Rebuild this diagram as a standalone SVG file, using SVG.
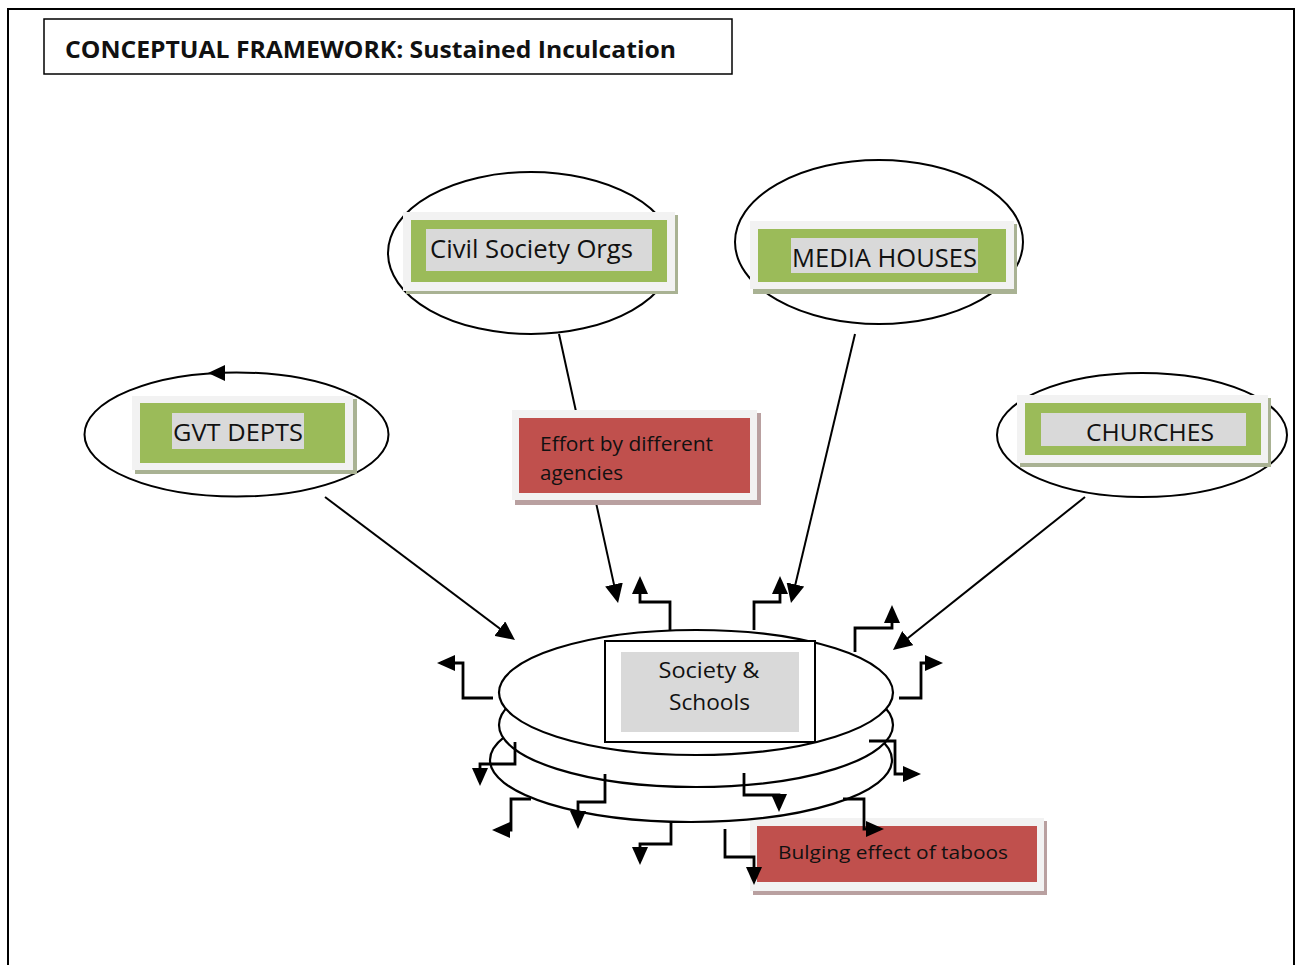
<svg xmlns="http://www.w3.org/2000/svg" width="1296" height="965" viewBox="0 0 1296 965">
<style>
.frame{fill:none;stroke:#000;stroke-width:2}
.oval{fill:none;stroke:#000;stroke-width:2}
.disk{fill:#fff;stroke:#000;stroke-width:2.2}
.light{fill:#f2f2f2}
.gshadow{fill:#a9b293}
.rshadow{fill:#b9a0a0}
.green{fill:#9bbb59}
.red{fill:#c0504d}
.grey{fill:#d9d9d9}
.t{font-family:"Open Sans","Liberation Sans",Arial,sans-serif;fill:#111}
.conn{fill:none;stroke:#000;stroke-width:2}
.elbow{fill:none;stroke:#000;stroke-width:2.8}
</style>
<defs>
<marker id="ah" markerUnits="userSpaceOnUse" markerWidth="20" markerHeight="18" refX="15" refY="9" orient="auto">
<path d="M0,0 L19,9 L0,18 z" fill="#000"/>
</marker>
<marker id="ah2" markerUnits="userSpaceOnUse" markerWidth="18" markerHeight="16" refX="14" refY="8" orient="auto">
<path d="M0,0 L18,8 L0,16 z" fill="#000"/>
</marker>
</defs>
<rect width="1296" height="965" fill="#fff"/>
<path class="frame" d="M8,965 V9 H1294 V965"/>
<g id="title">
<rect x="44" y="19" width="688" height="55" fill="#fff" stroke="#000" stroke-width="1.5"/>
<text class="t" x="65" y="58" font-size="24" font-weight="bold" textLength="611" lengthAdjust="spacingAndGlyphs">CONCEPTUAL FRAMEWORK: Sustained Inculcation</text>
</g>
<g id="civil">
<ellipse class="oval" cx="531" cy="253" rx="143" ry="81"/>
<rect class="gshadow" x="406" y="215" width="272" height="79"/>
<rect class="light" x="403" y="212" width="272" height="79"/>
<rect class="green" x="411" y="220" width="256" height="62"/>
<rect class="grey" x="426" y="229" width="226" height="42"/>
<text class="t" x="430" y="258" font-size="25" textLength="203" lengthAdjust="spacingAndGlyphs">Civil Society Orgs</text>
</g>
<g id="media">
<ellipse class="oval" cx="879" cy="242" rx="144" ry="82"/>
<rect class="gshadow" x="753" y="224" width="264" height="70"/>
<rect class="light" x="750" y="221" width="264" height="68"/>
<rect class="green" x="758" y="229" width="248" height="53"/>
<rect class="grey" x="791" y="238" width="187" height="35"/>
<text class="t" x="792" y="267" font-size="25" textLength="185" lengthAdjust="spacingAndGlyphs">MEDIA HOUSES</text>
</g>
<g id="gvt">
<ellipse class="oval" cx="236.5" cy="434.5" rx="152" ry="62"/>
<polygon points="208,373 225,365 225,381" fill="#000"/>
<rect class="gshadow" x="135" y="399" width="222" height="75"/>
<rect class="light" x="132" y="396" width="221" height="74"/>
<rect class="green" x="140" y="403" width="205" height="60"/>
<rect class="grey" x="172" y="413" width="132" height="36"/>
<text class="t" x="173" y="441" font-size="24" textLength="130" lengthAdjust="spacingAndGlyphs">GVT DEPTS</text>
</g>
<g id="churches">
<ellipse class="oval" cx="1142" cy="435" rx="145" ry="62"/>
<rect class="gshadow" x="1020" y="398" width="251" height="69"/>
<rect class="light" x="1017" y="395" width="251" height="68"/>
<rect class="green" x="1025" y="403" width="236" height="52"/>
<rect class="grey" x="1041" y="413" width="205" height="33"/>
<text class="t" x="1086" y="441" font-size="24" textLength="128" lengthAdjust="spacingAndGlyphs">CHURCHES</text>
</g>
<g id="bulging">
<rect class="rshadow" x="753" y="821" width="294" height="74"/>
<rect class="light" x="750" y="818" width="294" height="73"/>
<rect class="red" x="757" y="826" width="280" height="56"/>
<text class="t" x="778" y="859" font-size="19" textLength="230" lengthAdjust="spacingAndGlyphs">Bulging effect of taboos</text>
</g>
<g id="society">
<ellipse class="disk" cx="691" cy="760" rx="201" ry="62"/>
<ellipse class="disk" cx="696" cy="725" rx="197" ry="62"/>
<ellipse class="disk" cx="696" cy="692.5" rx="197" ry="62.5"/>
<rect x="605" y="641" width="210" height="101" fill="#fff" stroke="#000" stroke-width="2"/>
<rect class="grey" x="621" y="652" width="178" height="80"/>
<text class="t" x="709" y="678" font-size="22" text-anchor="middle" textLength="101" lengthAdjust="spacingAndGlyphs">Society &amp;</text>
<text class="t" x="709.5" y="710" font-size="22" text-anchor="middle" textLength="81" lengthAdjust="spacingAndGlyphs">Schools</text>
</g>
<g id="connectors">
<path class="conn" d="M559,334 L617.2,599.1" marker-end="url(#ah)"/>
<path class="conn" d="M325,497 L511.8,637.6" marker-end="url(#ah)"/>
<path class="conn" d="M855,334 L791.9,599.1" marker-end="url(#ah)"/>
<path class="conn" d="M1085,497 L896.1,647.5" marker-end="url(#ah)"/>
<path class="elbow" d="M670,630 V602 H640 V580" marker-end="url(#ah2)"/>
<path class="elbow" d="M754,630 V602 H780 V580" marker-end="url(#ah2)"/>
<path class="elbow" d="M855,652 V628 H892 V609" marker-end="url(#ah2)"/>
<path class="elbow" d="M899,698 H921 V663 H939" marker-end="url(#ah2)"/>
<path class="elbow" d="M493,698 H463 V663 H441" marker-end="url(#ah2)"/>
<path class="elbow" d="M515,742 V764 H480 V782" marker-end="url(#ah2)"/>
<path class="elbow" d="M531,799 H511 V830 H496" marker-end="url(#ah2)"/>
<path class="elbow" d="M605,774 V802 H578 V825" marker-end="url(#ah2)"/>
<path class="elbow" d="M671,822 V844 H640 V861" marker-end="url(#ah2)"/>
<path class="elbow" d="M744,773 V795 H779 V808" marker-end="url(#ah2)"/>
<path class="elbow" d="M843,799 H864 V829 H880" marker-end="url(#ah2)"/>
<path class="elbow" d="M869,741 H895 V774 H917" marker-end="url(#ah2)"/>
<path class="elbow" d="M725,829 V857 H754 V881" marker-end="url(#ah2)"/>
</g>
<g id="effort">
<rect class="rshadow" x="515" y="413" width="246" height="92"/>
<rect class="light" x="512" y="410" width="245" height="90"/>
<rect class="red" x="519" y="418" width="231" height="75"/>
<text class="t" x="540" y="451" font-size="20" textLength="173" lengthAdjust="spacingAndGlyphs">Effort by different</text>
<text class="t" x="540" y="480" font-size="20" textLength="83" lengthAdjust="spacingAndGlyphs">agencies</text>
</g>
</svg>
